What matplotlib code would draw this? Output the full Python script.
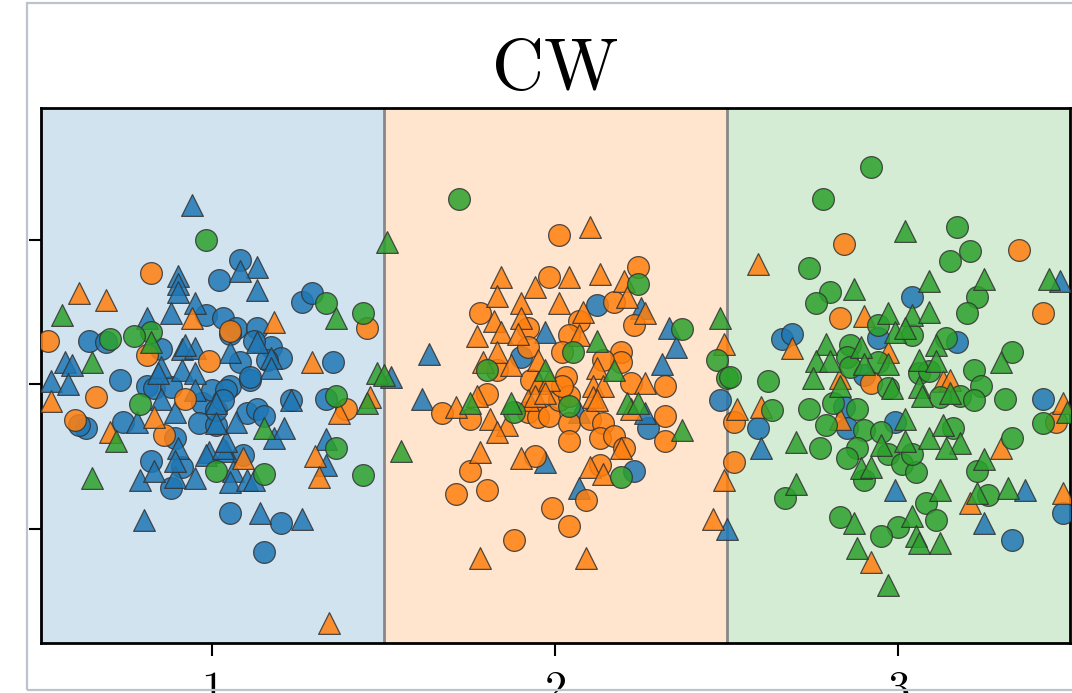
#!/usr/bin/env python3

import matplotlib
matplotlib.use('Agg')
import matplotlib.pyplot as plt
from matplotlib.patches import Rectangle

plt.rcParams['font.family'] = 'serif'
plt.rcParams['font.serif'] = ['cmr10']
plt.rcParams['mathtext.fontset'] = 'cm'
plt.rcParams['axes.formatter.use_mathtext'] = True

title = 'CW'
class_ticks = [1, 2, 3]
class_labels = ['1', '2', '3']
y_ticks = [-1, 0, 1]

# class 1 (blue)
blue_o_x = [1.08, 1.02, 0.98, 1.03, 1.07, 1.13, 1.26, 1.29, 0.64, 0.69, 0.85, 1.08, 1.17, 1.20, 1.35,
            0.73, 0.81, 1.05, 1.11, 0.63, 0.61, 0.74, 0.83, 0.88, 0.97, 1.00, 1.04, 0.96, 1.01, 1.10,
            1.13, 1.01, 1.03, 1.15, 1.23, 1.33, 0.82, 0.88, 0.91, 1.09, 1.05, 1.20, 1.15, 1.05, 1.11,
            1.16, 1.12, 0.89,
            2.12, 1.90, 2.27, 2.23, 2.48,
            3.04, 2.66, 2.69, 2.94, 3.17, 2.90, 3.42, 2.59, 2.84, 2.85, 2.99, 3.33, 3.48]
blue_o_y = [0.86, 0.72, 0.48, 0.46, 0.39, 0.39, 0.57, 0.63, 0.30, 0.29, 0.24, 0.15, 0.26, 0.18, 0.15,
            0.03, -0.01, -0.01, 0.03, -0.30, -0.28, -0.26, -0.03, -0.02, -0.13, -0.04, -0.04, -0.27, -0.28, -0.20,
            -0.17, -0.18, -0.11, -0.22, -0.11, -0.10, -0.53, -0.72, -0.57, -0.49, -0.89, -0.96, -1.16, 0.35, 0.05,
            0.17, 0.30, -0.37,
            0.55, 0.19, -0.30, -0.60, -0.11,
            0.60, 0.31, 0.35, 0.32, 0.29, 0.06, -0.10, -0.30, -0.16, -0.30, -0.26, -1.08, -0.89]
blue_t_x = [0.94, 1.13, 1.08, 0.90, 0.90, 0.90, 1.13, 0.88, 0.95, 0.81, 0.57, 0.59, 0.91, 0.95, 0.92,
            1.05, 1.13, 1.17, 1.17, 0.85, 0.91, 0.95, 0.53, 0.58, 0.84, 0.85, 0.95, 1.01, 0.89, 0.99,
            1.04, 1.07, 0.78, 1.18, 1.21, 1.23, 1.33, 1.33, 0.79, 0.83, 0.89, 0.95, 0.90, 0.89, 0.98,
            1.03, 1.04, 1.06, 1.05, 1.10, 1.12, 1.14, 1.26, 0.80, 1.01,
            2.25, 1.97, 2.33, 2.35, 1.63, 2.31, 1.61, 2.07, 2.26, 1.97, 2.07, 1.52, 2.50,
            3.47, 2.60, 2.99, 3.37, 3.25]
blue_t_y = [1.24, 0.81, 0.78, 0.75, 0.69, 0.64, 0.65, 0.49, 0.56, 0.46, 0.15, 0.13, 0.24, 0.25, 0.27,
            0.22, 0.29, 0.18, 0.11, 0.12, 0.10, 0.08, 0.02, 0.00, 0.08, -0.10, -0.04, -0.13, -0.19, -0.47,
            -0.46, -0.26, -0.26, -0.37, -0.30, -0.11, -0.38, -0.56, -0.66, -0.60, -0.64, -0.65, -0.44, -0.53, -0.49,
            -0.44, -0.39, -0.60, -0.68, -0.66, -0.66, -0.89, -0.93, -0.94, -0.27,
            0.53, 0.36, 0.39, 0.26, 0.21, 0.14, -0.10, -0.19, -0.20, -0.54, -0.72, 0.05, -1.00,
            0.71, -0.44, -0.73, -0.73, -0.96]

# class 2 (orange)
orange_o_x = [0.82, 1.05, 1.45, 0.52, 0.81, 0.99, 0.66, 0.60, 0.92, 0.86, 1.39,
              2.01, 1.98, 2.24, 2.17, 1.78, 1.92, 2.07, 2.23, 2.04, 2.02, 1.92, 1.83, 2.19, 2.19, 2.14,
              2.03, 1.93, 2.22, 2.32, 1.67, 1.80, 1.75, 1.92, 1.95, 1.98, 2.01, 2.04, 2.02, 2.04, 2.10,
              2.14, 2.32, 2.04, 2.13, 2.17, 2.20, 2.32, 1.94, 1.75, 2.13, 2.09, 1.71, 1.80, 1.99, 2.04, 1.88,
              2.84, 3.35, 3.42, 2.83, 2.92, 3.46, 2.52, 2.52]
orange_o_y = [0.77, 0.37, 0.39, 0.30, 0.20, 0.16, -0.09, -0.25, -0.10, -0.35, -0.17,
              1.03, 0.74, 0.81, 0.57, 0.49, 0.39, 0.44, 0.41, 0.34, 0.22, 0.26, 0.10, 0.22, 0.15, 0.17,
              0.05, 0.03, 0.01, -0.01, -0.20, -0.07, -0.24, -0.19, -0.23, -0.22, -0.11, -0.08, -0.01, -0.27, -0.24,
              -0.27, -0.22, -0.39, -0.37, -0.36, -0.44, -0.39, -0.50, -0.60, -0.56, -0.80, -0.76, -0.73, -0.86, -0.98, -1.08,
              0.97, 0.93, 0.49, 0.46, 0.01, -0.26, -0.26, -0.54]
orange_t_x = [0.61, 0.69, 0.94, 1.18, 1.29, 0.53, 0.70, 0.83, 1.37, 1.46, 1.30, 1.31, 1.09, 1.34,
              2.10, 1.84, 2.04, 2.13, 2.20, 1.94, 1.83, 1.90, 2.01, 2.21, 2.26, 1.82, 1.90, 2.08, 1.77,
              1.84, 1.89, 2.07, 1.83, 1.87, 1.79, 1.95, 2.12, 1.95, 1.98, 2.26, 2.11, 2.14, 2.11, 2.12,
              1.71, 1.77, 1.81, 1.92, 1.94, 1.97, 2.22, 1.86, 1.83, 1.78, 1.90, 2.10, 2.14, 2.19, 1.78,
              2.09, 2.49, 2.49, 2.46,
              2.59, 2.90, 2.69, 2.97, 2.83, 3.13, 3.15, 3.48, 2.53, 2.60, 2.83, 3.30, 3.21, 3.48, 2.92]
orange_t_y = [0.63, 0.58, 0.46, 0.43, 0.15, -0.12, -0.33, -0.23, -0.20, -0.09, -0.50, -0.64, -0.51, -1.65,
              1.09, 0.74, 0.74, 0.76, 0.71, 0.67, 0.61, 0.56, 0.56, 0.60, 0.49, 0.44, 0.46, 0.50, 0.33,
              0.36, 0.35, 0.34, 0.22, 0.13, 0.15, 0.17, 0.11, 0.01, 0.03, 0.01, -0.01, -0.01, -0.09, -0.11,
              -0.16, -0.08, -0.24, -0.11, -0.08, -0.06, -0.17, -0.28, -0.33, -0.47, -0.51, -0.57, -0.62, -0.44, -1.20,
              -1.20, 0.28, -0.66, -0.93,
              0.83, 0.47, 0.25, 0.22, 0.04, 0.02, 0.03, -0.13, -0.17, -0.16, -0.24, -0.44, -0.82, -0.75, -1.23]

# class 3 (green)
green_o_x = [0.98, 0.82, 0.77, 0.70, 1.33, 1.44, 0.79, 1.36, 1.36, 1.44, 1.01, 1.15,
             1.72, 2.24, 2.37, 2.05, 1.80, 2.47, 2.50, 1.88, 2.04, 2.19,
             2.92, 2.78, 3.17, 3.21, 3.15, 2.74, 2.80, 2.76, 3.23, 3.20, 2.94, 3.04, 3.14, 3.33, 2.86,
             2.85, 2.86, 2.94, 3.06, 3.09, 3.22, 3.24, 2.51, 2.62, 2.97, 3.18, 3.12, 3.22, 3.31, 3.42,
             2.63, 2.74, 2.81, 2.88, 2.79, 2.77, 2.90, 2.95, 2.88, 2.97, 2.85, 3.01, 3.05, 3.04, 3.16,
             3.33, 3.23, 3.26, 2.90, 3.08, 3.11, 3.00, 2.95, 2.83, 2.67]
green_o_y = [1.00, 0.36, 0.33, 0.31, 0.56, 0.49, -0.14, -0.08, -0.44, -0.63, -0.60, -0.62,
             1.28, 0.69, 0.38, 0.22, 0.10, 0.17, 0.04, -0.19, -0.15, -0.64,
             1.50, 1.28, 1.09, 0.92, 0.85, 0.80, 0.64, 0.56, 0.60, 0.49, 0.41, 0.34, 0.32, 0.22, 0.27,
             0.19, 0.12, 0.15, 0.08, 0.09, 0.10, -0.01, 0.05, 0.02, -0.03, -0.08, -0.09, -0.11, -0.10, -0.27,
             -0.18, -0.17, -0.13, -0.17, -0.28, -0.44, -0.32, -0.33, -0.44, -0.48, -0.51, -0.55, -0.61, -0.48, -0.30,
             -0.37, -0.60, -0.77, -0.66, -0.82, -0.94, -0.99, -1.05, -0.92, -0.79]
green_t_x = [0.56, 1.36, 1.51, 0.82, 0.65, 1.48, 1.50, 0.72, 1.15, 1.45, 0.65,
             2.48, 2.12, 1.97, 2.17, 1.75, 1.87, 2.21, 2.24, 2.37, 1.55,
             3.02, 2.87, 3.09, 3.25, 3.44, 2.97, 3.04, 3.09, 2.99, 3.02, 3.11, 3.30, 2.79, 2.76, 2.80,
             2.75, 2.83, 2.89, 2.90, 2.97, 2.98, 3.06, 3.11, 3.06, 3.07, 3.15, 3.49, 3.02, 2.95, 3.02,
             3.09, 3.13, 3.18, 3.14, 2.89, 2.92, 3.25, 2.70, 3.32, 3.23, 3.12, 3.04, 3.05, 3.06, 3.12,
             2.87, 2.88, 2.97, 2.70]
green_t_y = [0.48, 0.46, 0.98, 0.29, 0.15, 0.08, 0.06, -0.39, -0.30, -0.13, -0.65,
             0.46, 0.30, 0.10, 0.10, -0.13, -0.13, -0.13, -0.13, -0.32, -0.46,
             1.06, 0.66, 0.71, 0.73, 0.73, 0.49, 0.48, 0.50, 0.36, 0.39, 0.27, 0.15, 0.28, 0.16, 0.16,
             0.04, -0.01, 0.26, 0.14, 0.14, -0.03, 0.17, 0.16, -0.02, -0.08, -0.06, -0.19, -0.24, -0.42, -0.39,
             -0.37, -0.28, -0.41, -0.44, -0.58, -0.57, -0.52, -0.40, -0.72, -0.75, -0.73, -0.91, -1.05, -1.10, -1.10,
             -0.96, -1.13, -1.39, -0.69]

colors = ['#1f77b4', '#ff7f0e', '#2ca02c']

fig = plt.figure(figsize=(10.72, 6.93), dpi=100)
ax = fig.add_axes([0.0382, 0.0722, 0.9599, 0.772])

# decision regions
for i, c in enumerate(colors):
    ax.axvspan(class_ticks[i] - 0.5, class_ticks[i] + 0.5, color=c, alpha=0.2, lw=0, zorder=0)
ax.axvline(1.5, color='#888888', lw=2, zorder=1)
ax.axvline(2.5, color='#888888', lw=2, zorder=1)

kw = dict(s=245, alpha=0.85, edgecolors='#333333', linewidths=0.9, zorder=3)
ax.scatter(blue_o_x, blue_o_y, marker='o', color=colors[0], **kw)
ax.scatter(blue_t_x, blue_t_y, marker='^', color=colors[0], **kw)
ax.scatter(orange_o_x, orange_o_y, marker='o', color=colors[1], **kw)
ax.scatter(orange_t_x, orange_t_y, marker='^', color=colors[1], **kw)
ax.scatter(green_o_x, green_o_y, marker='o', color=colors[2], **kw)
ax.scatter(green_t_x, green_t_y, marker='^', color=colors[2], **kw)

ax.set_xlim(0.5, 3.5)
ax.set_ylim(-1.79, 1.91)
ax.set_xticks(class_ticks)
ax.set_xticklabels(class_labels)
ax.set_yticks(y_ticks)
ax.set_yticklabels(['' for t in y_ticks])
ax.tick_params(axis='both', length=9, width=1.5, labelsize=32, pad=11)
for sp in ax.spines.values():
    sp.set_linewidth(2)
ax.set_title(title, fontsize=52, pad=14)

# panel frame
fig.patches.append(Rectangle((0.0252, 0.0043), 1.0, 0.9914, transform=fig.transFigure,
                             fill=False, edgecolor='#bcc3cc', lw=1.6, zorder=0))

fig.savefig('out.png', dpi=100)
